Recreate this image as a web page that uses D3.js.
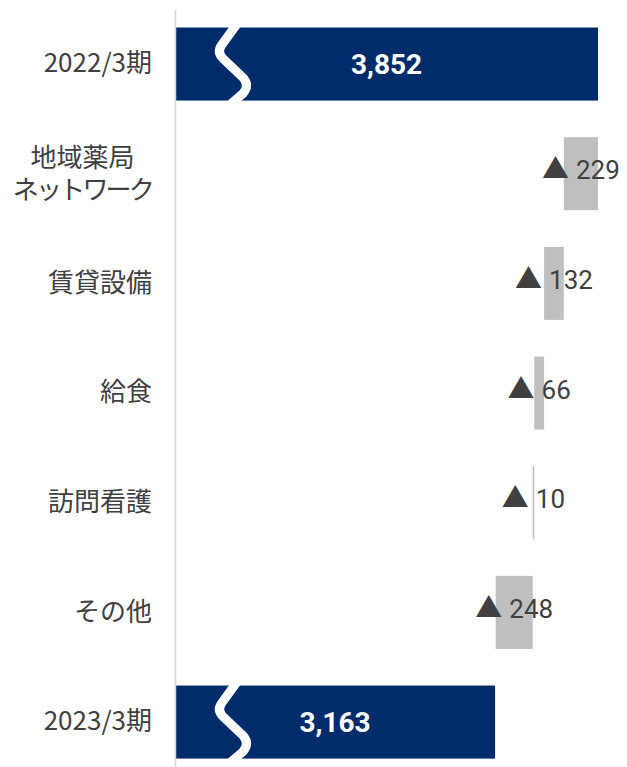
<!DOCTYPE html>
<html>
<head>
<meta charset="utf-8">
<script src="https://cdn.jsdelivr.net/npm/d3@7/dist/d3.min.js"></script>
<style>
  html, body { margin: 0; padding: 0; background: #fff; }
  svg { display: block; }
</style>
</head>
<body>
<svg id="chart" width="627" height="767"></svg>
<script>
// Operating profit bridge (waterfall), in 百万円
const categories = ["2022/3期", "地域薬局\nネットワーク", "賃貸設備", "給食", "訪問看護", "その他", "2023/3期"];
const startValue = 3852;
const endValue = 3163;
const changes = [-229, -132, -66, -10, -248];

const W = 627, H = 767;
const margin = { left: 175 };
const navy = "#002c6c";
const grey = "#bfbfbf";
const textColor = "#404040";

// Build waterfall segments
const rows = [];
rows.push({ cat: categories[0], x0: null, x1: startValue, type: "total", value: startValue });
let running = startValue;
changes.forEach((c, i) => {
  const next = running + c;
  rows.push({ cat: categories[i + 1], x0: Math.min(running, next), x1: Math.max(running, next), type: "delta", value: c });
  running = next;
});
rows.push({ cat: categories[6], x0: null, x1: endValue, type: "total", value: endValue });

const svg = d3.select("#chart");

// Broken value axis: starts well above zero
const x = d3.scaleLinear().domain([1020, 3852]).range([margin.left, 598]);
const y = d3.scaleBand().domain(categories).range([9.2, 776.9]).paddingInner(0.334).paddingOuter(0.167);

// Bars
const bars = svg.append("g");
bars.selectAll("rect").data(rows).join("rect")
  .attr("x", d => d.type === "total" ? x.range()[0] : x(d.x0))
  .attr("y", d => y(d.cat))
  .attr("width", d => d.type === "total" ? x(d.x1) - x.range()[0] : Math.max(1.5, x(d.x1) - x(d.x0)))
  .attr("height", y.bandwidth())
  .attr("fill", d => d.type === "total" ? navy : grey);

// Wavy break marks on the total bars
const bw = y.bandwidth();
const breakPath = (y0) => {
  const x0 = x.range()[0];
  const p = d3.path();
  p.moveTo(x0 + 63, y0 - 5);
  p.lineTo(x0 + 47, y0 + 17);
  p.quadraticCurveTo(x0 + 41, y0 + 25, x0 + 49, y0 + 32);
  p.lineTo(x0 + 68, y0 + 50);
  p.quadraticCurveTo(x0 + 75, y0 + 58, x0 + 68, y0 + 66);
  p.lineTo(x0 + 54, y0 + bw + 5);
  return p.toString();
};
bars.selectAll("path.brk").data(rows.filter(d => d.type === "total")).join("path")
  .attr("class", "brk")
  .attr("d", d => breakPath(y(d.cat)))
  .attr("fill", "none")
  .attr("stroke", "#fff")
  .attr("stroke-width", 9);

// Total value labels
svg.append("g").selectAll("text").data(rows.filter(d => d.type === "total")).join("text")
  .attr("x", d => (x.range()[0] + x(d.x1)) / 2)
  .attr("y", d => y(d.cat) + bw / 2)
  .attr("dy", "0.36em")
  .attr("text-anchor", "middle")
  .attr("fill", "#fff")
  .attr("font-family", "Roboto, sans-serif")
  .attr("font-weight", "bold")
  .attr("font-size", 28)
  .text(d => d3.format(",")(d.value));

// Change labels: ▲ marks a decrease
const dl = svg.append("g").selectAll("text").data(rows.filter(d => d.type === "delta")).join("text")
  .attr("x", d => (x(d.x0) + x(d.x1)) / 2)
  .attr("y", d => y(d.cat) + bw / 2)
  .attr("dy", "0.36em")
  .attr("text-anchor", "middle")
  .attr("fill", textColor);
dl.append("tspan")
  .attr("font-family", "'Noto Sans CJK JP', sans-serif")
  .attr("font-size", 27)
  .text(d => d.value < 0 ? "▲" : "");
dl.append("tspan")
  .attr("dx", 7)
  .attr("font-family", "Roboto, sans-serif")
  .attr("font-size", 26)
  .text(d => Math.abs(d.value));

// Category axis
const axis = svg.append("g")
  .attr("transform", `translate(${margin.left},0)`)
  .call(d3.axisLeft(y).tickSize(0).tickPadding(23));
axis.select(".domain").attr("stroke", "#d4d4d4").attr("stroke-width", 1.5);
axis.selectAll(".tick text")
  .attr("fill", textColor)
  .attr("font-family", "'Noto Sans CJK JP', Roboto, sans-serif")
  .attr("font-size", 26)
  .each(function (d) {
    const lines = d.split("\n");
    if (lines.length === 1) return;
    const t = d3.select(this).text(null).attr("dy", null);
    const lh = 32;
    const spans = lines.map((ln, i) => t.append("tspan")
      .attr("x", 0)
      .attr("dy", i === 0 ? `${-(lines.length - 1) / 2 * lh + 9}px` : `${lh}px`)
      .attr("letter-spacing", ln.length > 4 ? -2.8 : 0)
      .text(ln));
    const maxW = d3.max(spans, s => s.node().getComputedTextLength());
    const cx = -23 - maxW / 2;
    t.attr("text-anchor", "middle");
    spans.forEach(s => s.attr("x", cx));
  });
</script>
</body>
</html>
